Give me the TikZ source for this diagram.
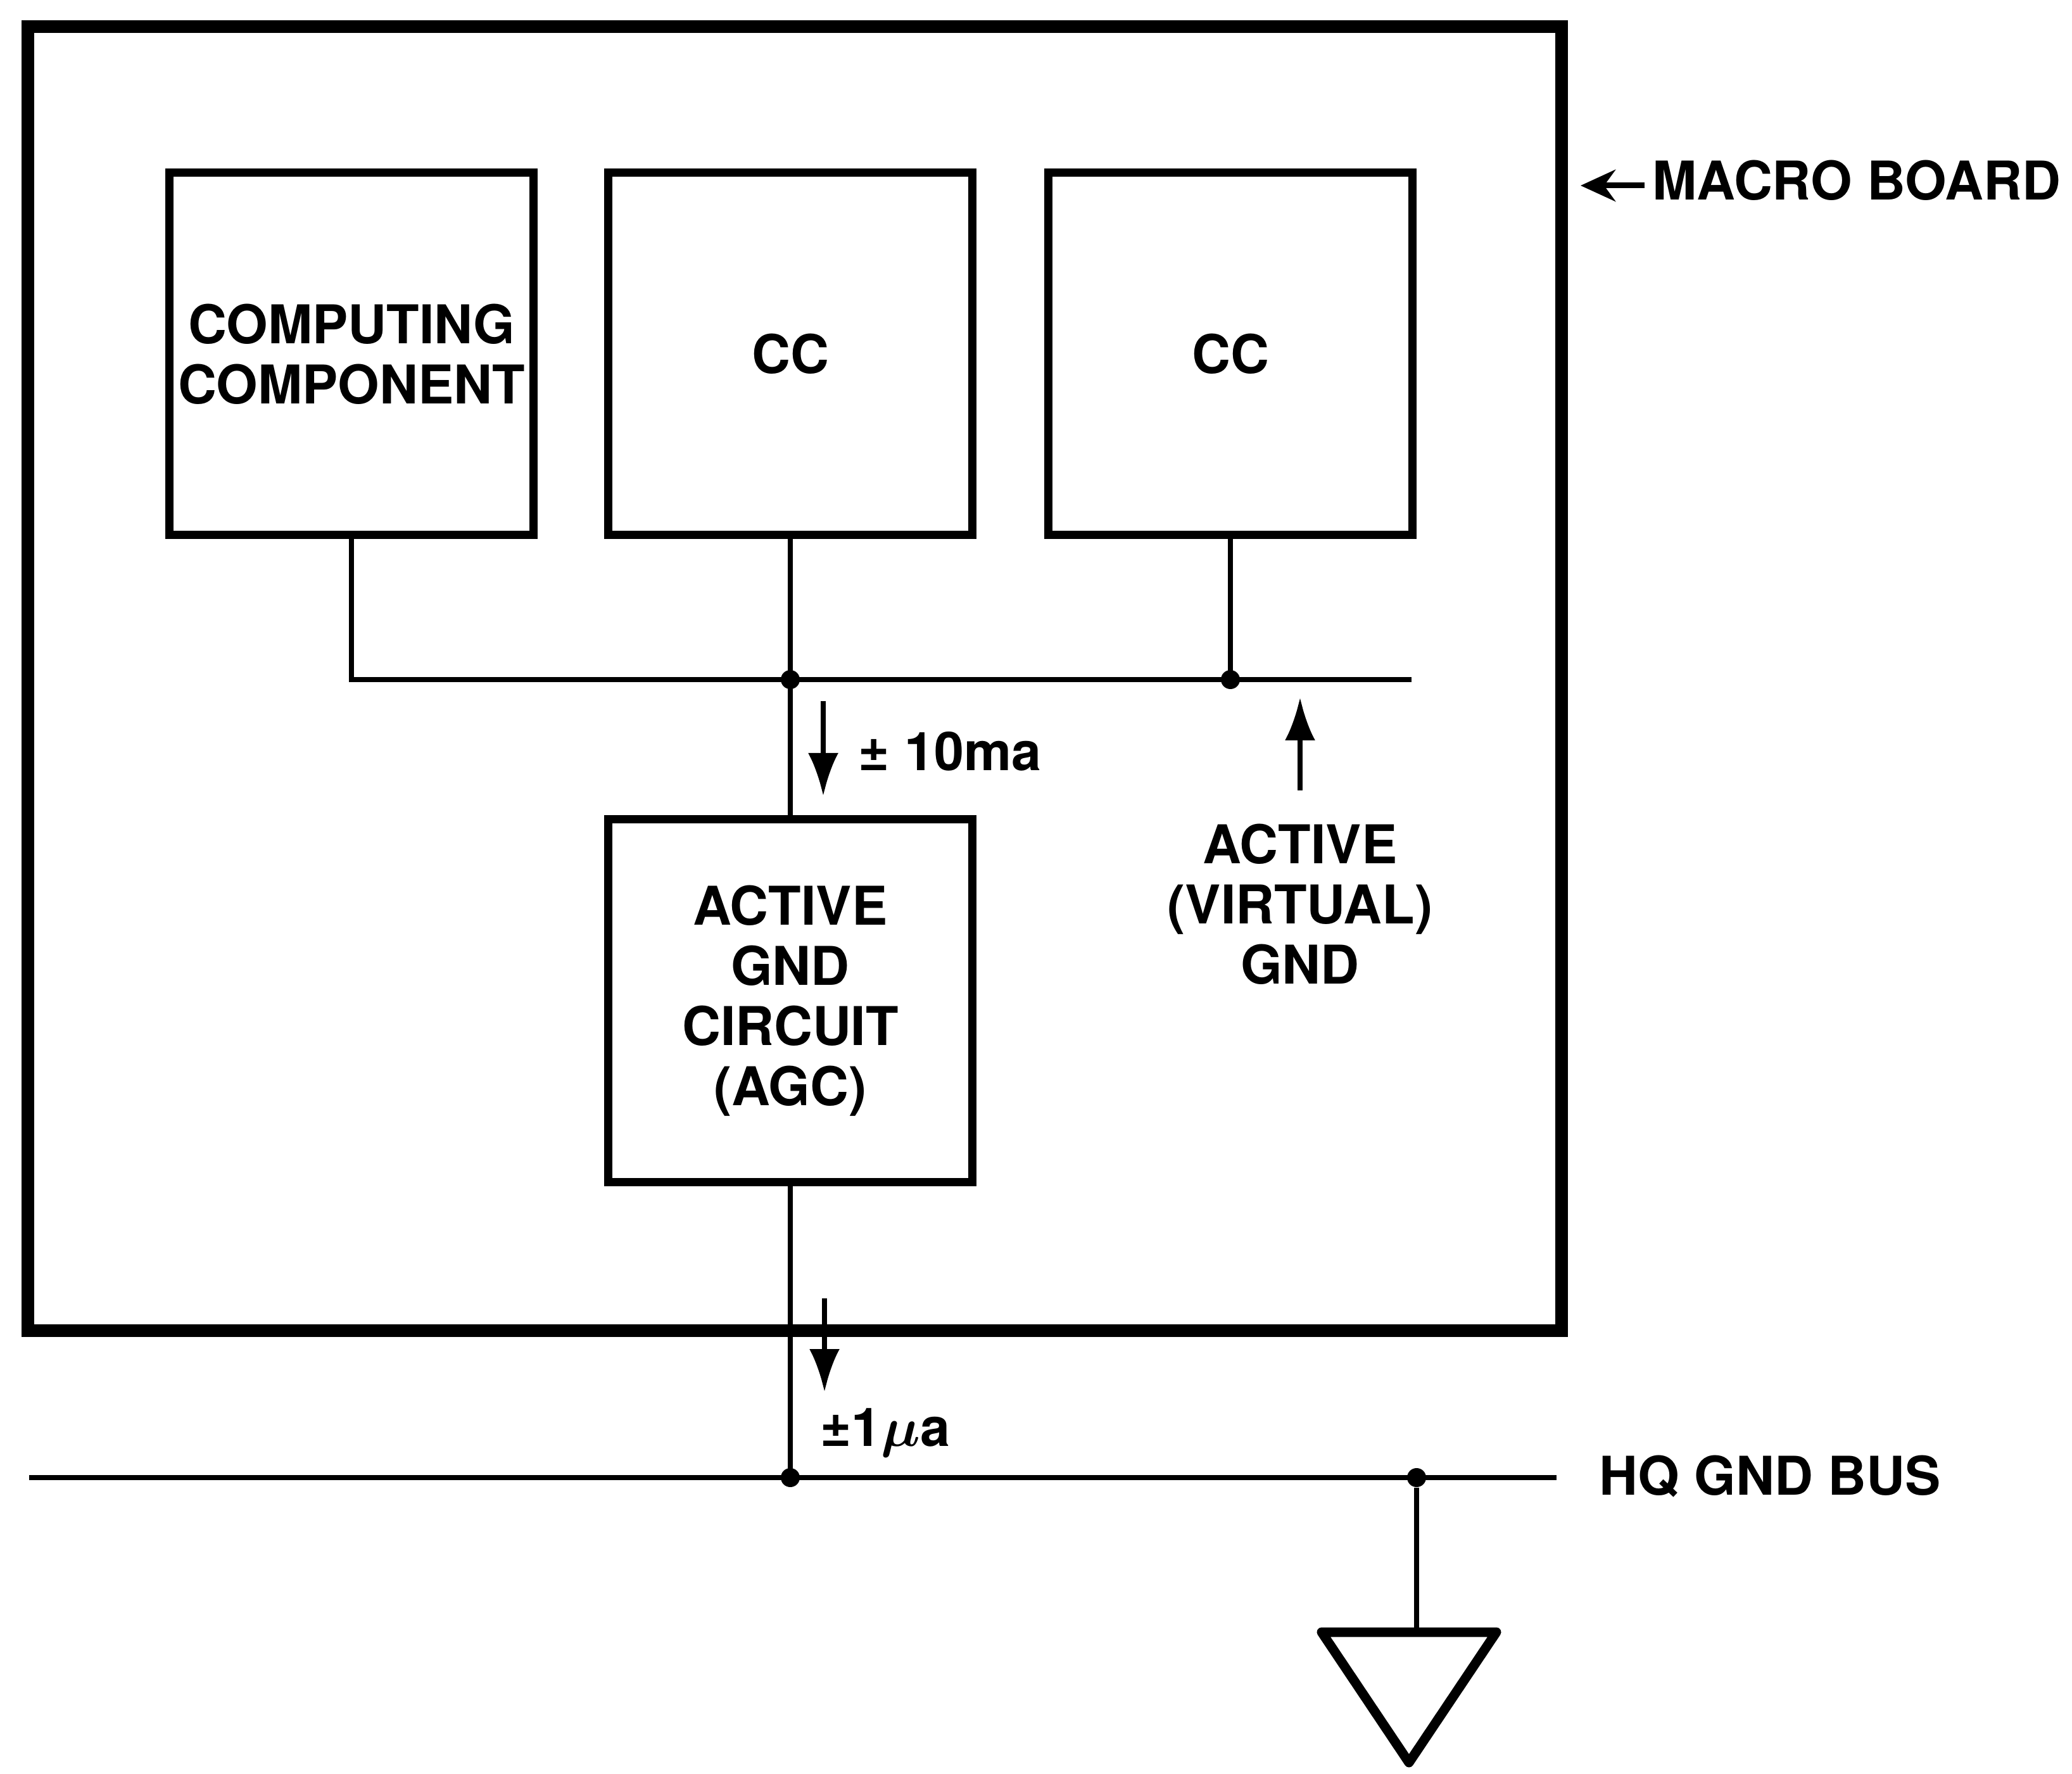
\documentclass[tikz,border=0pt]{standalone}
\usepackage{amsmath}
\usepackage{fontspec}
\setmainfont{TeX Gyre Heros}
\usetikzlibrary{arrows.meta}

\begin{document}
\begin{tikzpicture}[
    wire/.style={line width=0.08cm},
    ccbox/.style={draw, line width=0.13cm, minimum width=5.75cm, minimum height=5.72cm, align=center, inner sep=0pt},
    txt/.style={font=\bfseries\fontsize{24}{27}\selectfont},
    lbl/.style={txt, inner sep=0pt, align=center},
    current/.style={line width=0.08cm, -{Latex[length=0.68cm, width=0.48cm]}},
    joint/.style={circle, fill, inner sep=0pt, minimum size=0.3cm}
]
    \useasboundingbox (0, 0) rectangle (32.72, -28.01);

    % Macro board outline
    \node[draw, line width=0.2cm, minimum width=24.22cm, minimum height=20.59cm, inner sep=0pt] (board) at (12.55, -10.715) {};
    \node[lbl, anchor=west] (boardlbl) at (26.09, -2.85) {MACRO BOARD};
    \draw[line width=0.09cm, -{Stealth[length=0.55cm, width=0.5cm]}] ([xshift=-0.12cm, yshift=-0.08cm]boardlbl.west) -- ([xshift=0.2cm, yshift=-0.08cm]board.east |- boardlbl.west);

    % Components on the board
    \node[ccbox, txt] (comp) at (5.55, -5.59) {COMPUTING\\COMPONENT};
    \node[ccbox, txt] (cc1) at (12.48, -5.59) {CC};
    \node[ccbox, txt] (cc2) at (19.43, -5.59) {CC};
    \node[ccbox, txt] (agc) at (12.48, -15.80) {ACTIVE\\GND\\CIRCUIT\\(AGC)};

    % Local ground bus
    \coordinate (busend) at (22.29, -10.73);
    \draw[wire] (comp.south) |- (busend);
    \draw[wire] (cc1.south) -- (agc.north);
    \draw[wire] (cc2.south) -- (cc2.south |- busend);
    \node[joint] (j1) at (cc1.south |- busend) {};
    \node[joint] (j2) at (cc2.south |- busend) {};

    % Virtual ground label
    \node[lbl] (vgnd) at (20.53, -14.28) {ACTIVE\\(VIRTUAL)\\GND};
    \draw[current] ([yshift=0.53cm]vgnd.north) -- ([yshift=-0.28cm]vgnd.north |- busend);

    % HQ ground bus
    \coordinate (hqstart) at (0.46, -23.33);
    \coordinate (hqend) at (24.58, -23.33);
    \draw[wire] (hqstart) -- (hqend);
    \draw[wire] (agc.south) -- (agc.south |- hqstart);
    \node[joint] (j3) at (agc.south |- hqstart) {};
    \node[joint] (j4) at (22.37, -23.33) {};
    \node[lbl, anchor=west] (hqlbl) at (25.25, -23.31) {HQ GND BUS};

    % Earth
    \coordinate (earth) at (22.37, -25.77);
    \draw[wire] (j4) -- (earth);
    \draw[line width=0.15cm, line join=round] ([xshift=-1.5cm]earth) -- ([xshift=1.26cm]earth) -- ([xshift=-0.12cm, yshift=-2.06cm]earth) -- cycle;

    % Currents
    \coordinate (matop) at (13.0, -11.07);
    \coordinate (mabot) at (13.0, -12.57);
    \draw[current] (matop) -- (mabot);
    \node[lbl, anchor=base west] (ma) at (13.55, -12.17) {± 10ma};
    \coordinate (uatop) at (13.02, -20.50);
    \coordinate (uabot) at (13.02, -21.98);
    \draw[current] (uatop) -- (uabot);
    \node[lbl, anchor=base west] (ua) at (12.95, -22.83) {±1$\boldsymbol{\mu}$a};
\end{tikzpicture}
\end{document}
